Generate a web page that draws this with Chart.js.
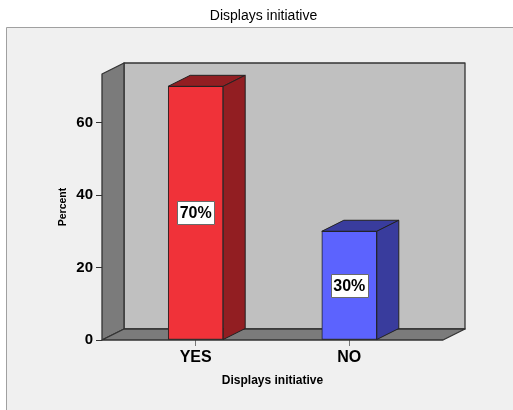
<!DOCTYPE html>
<html>
<head>
<meta charset="utf-8">
<script src="https://cdn.jsdelivr.net/npm/chart.js@4/dist/chart.umd.min.js"></script>
<style>
  html, body { margin: 0; padding: 0; background: #ffffff; }
  #wrap { width: 513px; height: 410px; }
</style>
</head>
<body>
<div id="wrap"><canvas id="c" width="513" height="410"></canvas></div>
<script>
// Data
const chartTitle = 'Displays initiative';
const axisTitle = 'Displays initiative';
const valueTitle = 'Percent';
const categories = ['YES', 'NO'];
const percents = [70, 30];
const yTicks = [0, 20, 40, 60];
const yMax = 73.4;

// Styling
const FONT = 'Arial, "Liberation Sans", sans-serif';
const frontColors = ['#f03239', '#5c63fe'];
const shadeColors = ['#921e22', '#393c9d'];
const DX = 22, DY = -11;   // depth of the 3D box

function poly(ctx, pts, fill, stroke, lw) {
  ctx.beginPath();
  ctx.moveTo(pts[0][0], pts[0][1]);
  for (let i = 1; i < pts.length; i++) ctx.lineTo(pts[i][0], pts[i][1]);
  ctx.closePath();
  if (fill) { ctx.fillStyle = fill; ctx.fill(); }
  if (stroke) { ctx.strokeStyle = stroke; ctx.lineWidth = lw || 1; ctx.stroke(); }
}

const box3d = {
  id: 'box3d',
  beforeDraw(chart) {
    const ctx = chart.ctx;
    ctx.save();
    ctx.fillStyle = '#ffffff';
    ctx.fillRect(0, 0, chart.width, chart.height);
    ctx.fillStyle = '#f0f0f0';
    ctx.fillRect(6.5, 27.5, chart.width, chart.height);
    ctx.strokeStyle = '#a0a0a0';
    ctx.lineWidth = 1;
    ctx.beginPath();
    ctx.moveTo(6.5, chart.height);
    ctx.lineTo(6.5, 27.5);
    ctx.lineTo(chart.width, 27.5);
    ctx.stroke();
    ctx.restore();
  },
  beforeDatasetsDraw(chart) {
    const ctx = chart.ctx;
    const { left, right, top, bottom } = chart.chartArea;
    ctx.save();
    ctx.lineJoin = 'round';
    // back wall
    poly(ctx, [[left + DX, top + DY], [right + DX, top + DY], [right + DX, bottom + DY], [left + DX, bottom + DY]], '#c0c0c0', '#333333', 1.3);
    // side wall
    poly(ctx, [[left, top], [left + DX, top + DY], [left + DX, bottom + DY], [left, bottom]], '#7b7b7b', '#333333', 1.3);
    // floor
    poly(ctx, [[left, bottom], [left + DX, bottom + DY], [right + DX, bottom + DY], [right, bottom]], '#7b7b7b', '#333333', 1.3);
    ctx.restore();
  },
  afterDatasetsDraw(chart) {
    const ctx = chart.ctx;
    const meta = chart.getDatasetMeta(0);
    ctx.save();
    ctx.lineJoin = 'round';
    meta.data.forEach((bar, i) => {
      const { x, y, base, width } = bar.getProps(['x', 'y', 'base', 'width'], true);
      const l = x - width / 2, r = x + width / 2;
      // top face
      poly(ctx, [[l, y], [l + DX, y + DY], [r + DX, y + DY], [r, y]], shadeColors[i], '#222222', 1);
      // right face
      poly(ctx, [[r, y], [r + DX, y + DY], [r + DX, base + DY], [r, base]], shadeColors[i], '#222222', 1);
      // value label
      const txt = percents[i] + '%';
      ctx.font = 'bold 16px ' + FONT;
      const tw = ctx.measureText(txt).width;
      const cy = (y + base) / 2;
      const bw = Math.round(tw + 5), bh = 23;
      const bx = Math.round(x - bw / 2) + 0.5, by = Math.round(cy - bh / 2) + 0.5;
      ctx.fillStyle = '#ffffff';
      ctx.fillRect(bx, by, bw, bh);
      ctx.strokeStyle = '#6a6a6a';
      ctx.lineWidth = 1;
      ctx.strokeRect(bx, by, bw, bh);
      ctx.fillStyle = '#000000';
      ctx.textAlign = 'center';
      ctx.textBaseline = 'middle';
      ctx.fillText(txt, x, cy + 1);
    });
    ctx.restore();
  }
};

new Chart(document.getElementById('c'), {
  type: 'bar',
  data: {
    datasets: [{
      data: categories.map((c, i) => ({ x: i, y: percents[i] })),
      backgroundColor: frontColors,
      borderColor: '#222222',
      borderWidth: 1,
      borderSkipped: false,
      barThickness: 55
    }]
  },
  plugins: [box3d],
  options: {
    responsive: false,
    animation: false,
    devicePixelRatio: 1,
    layout: { padding: { left: 14, right: 0, top: 0, bottom: 0 } },
    plugins: {
      legend: { display: false },
      tooltip: { enabled: false },
      title: {
        display: true,
        text: chartTitle,
        color: '#000000',
        font: { family: FONT, size: 14, weight: 'normal' },
        padding: { top: 8, bottom: 49.2 }
      }
    },
    scales: {
      x: {
        type: 'linear',
        min: -0.61,
        max: 1.61,
        offset: false,
        afterBuildTicks: s => { s.ticks = categories.map((c, i) => ({ value: i })); },
        afterFit: s => { s.height = 70; },
        ticks: {
          callback: v => categories[v],
          color: '#000000',
          font: { family: FONT, size: 16, weight: 'bold' },
          padding: 2,
          autoSkip: false,
          maxRotation: 0
        },
        grid: { drawOnChartArea: false, offset: false, tickLength: 6, color: '#777777' },
        border: { display: false },
        title: {
          display: true,
          text: axisTitle,
          color: '#000000',
          font: { family: FONT, size: 12, weight: 'bold' },
          padding: { top: 0, bottom: 22 }
        }
      },
      y: {
        min: 0,
        max: yMax,
        afterBuildTicks: s => { s.ticks = yTicks.map(v => ({ value: v })); },
        afterFit: s => { s.width = 88; },
        ticks: {
          color: '#000000',
          font: { family: FONT, size: 15, weight: 'bold' },
          padding: 3
        },
        grid: { drawOnChartArea: false, tickLength: 6, color: '#333333' },
        border: { display: false },
        title: {
          display: true,
          text: valueTitle,
          color: '#000000',
          font: { family: FONT, size: 10.5, weight: 'bold' },
          padding: { top: 43, bottom: 0 }
        }
      },
      // empty right-hand margin of the plot frame
      yRight: {
        position: 'right',
        min: 0,
        max: yMax,
        afterFit: s => { s.width = 70; },
        ticks: { display: false },
        grid: { display: false },
        border: { display: false }
      }
    }
  }
});
</script>
</body>
</html>
